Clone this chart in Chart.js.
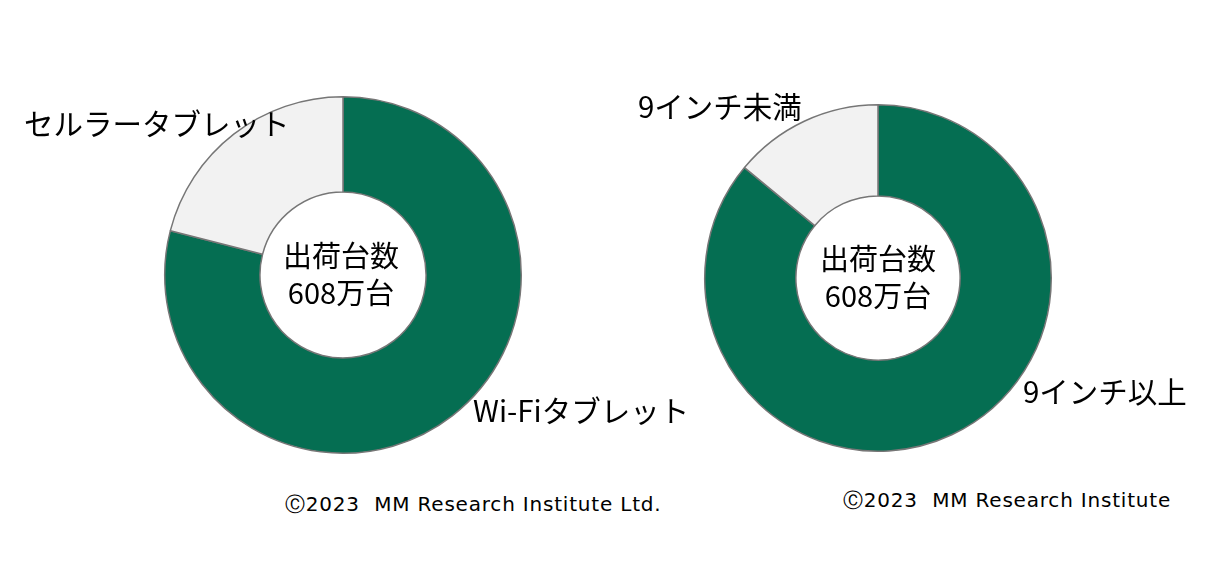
<!DOCTYPE html>
<html><head><meta charset="utf-8">
<script src="https://cdn.jsdelivr.net/npm/chart.js@4"></script>
<style>
body{margin:0;width:1227px;height:566px;background:#fff;position:relative;overflow:hidden;font-family:"Noto Sans CJK JP","Noto Sans",sans-serif;color:#000}
.c{position:absolute}
.t{position:absolute;font-size:29.5px;white-space:nowrap;line-height:1}
.ctr{position:absolute;font-size:29px;text-align:center;line-height:37px;width:200px}
.cp{position:absolute;font-size:20px;white-space:nowrap;font-family:"DejaVu Sans",sans-serif;letter-spacing:0.8px}
</style></head><body>
<div class="c" style="left:163px;top:95px;width:360px;height:360px"><canvas id="a"></canvas></div>
<div class="c" style="left:703px;top:103px;width:350px;height:350px"><canvas id="b"></canvas></div>
<div class="t" style="left:24px;top:108px">セルラータブレット</div>
<div class="t" style="left:473px;top:395px">Wi-Fiタブレット</div>
<div class="t" style="left:638px;top:91px">9インチ未満</div>
<div class="t" style="left:1023px;top:376px">9インチ以上</div>
<div class="ctr" style="left:241px;top:236px">出荷台数<br>608万台</div>
<div class="ctr" style="left:778px;top:239px">出荷台数<br>608万台</div>
<div class="cp" style="left:285px;top:491px">Ⓒ2023&nbsp; MM Research Institute Ltd.</div>
<div class="cp" style="left:843px;top:487px">Ⓒ2023&nbsp; MM Research Institute</div>
<script>
const leftLabels=["Wi-Fiタブレット","セルラータブレット"];
const leftValues=[79,21];
const rightLabels=["9インチ以上","9インチ未満"];
const rightValues=[86,14];
const colors=["#056E52","#F2F2F2"];
function mk(id,labels,values,cut){
 new Chart(document.getElementById(id),{type:'doughnut',
  data:{labels:labels,datasets:[{data:values,backgroundColor:colors,borderColor:"#767676",borderWidth:1.5}]},
  options:{responsive:true,maintainAspectRatio:false,animation:false,cutout:cut,layout:{padding:1},
   plugins:{legend:{display:false},tooltip:{enabled:false}}}});
}
mk('a',leftLabels,leftValues,'46.6%');
mk('b',rightLabels,rightValues,'47.4%');
</script>
</body></html>
